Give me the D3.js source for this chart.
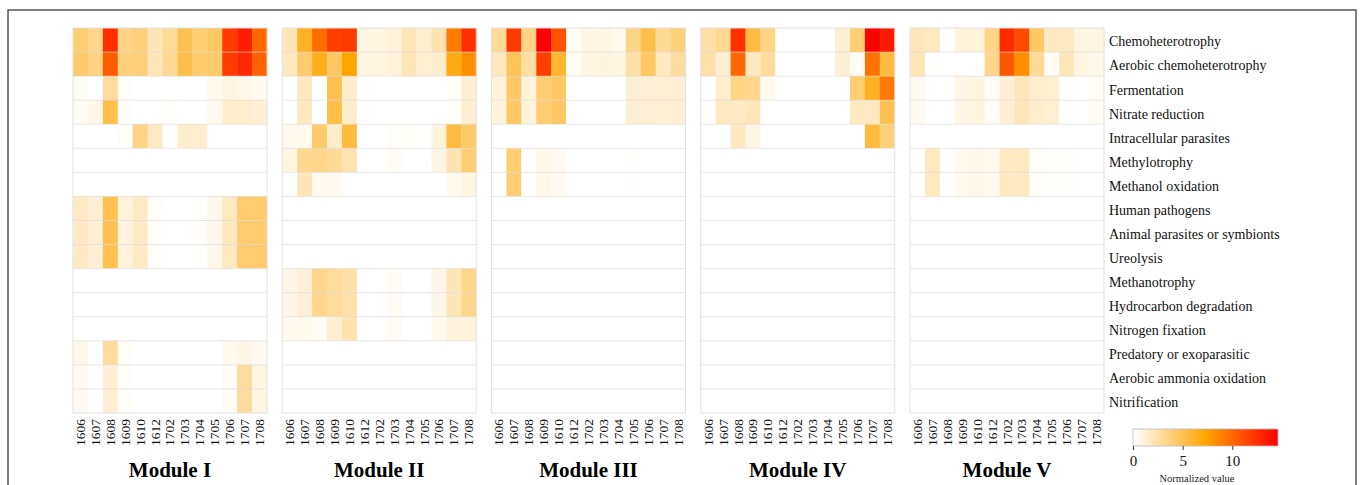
<!DOCTYPE html>
<html>
<head>
<meta charset="utf-8">
<script src="https://cdn.jsdelivr.net/npm/d3@7"></script>
<style>
  body { margin: 0; background: #fff; }
  text { font-family: "Liberation Serif", "Times New Roman", serif; }
</style>
</head>
<body>
<svg id="chart" width="1360" height="485"></svg>
<script>
// sampling months (columns)
const months = ['1606', '1607', '1608', '1609', '1610', '1612', '1702', '1703',
                '1704', '1705', '1706', '1707', '1708'];

// functional groups (rows)
const functions = [
  'Chemoheterotrophy', 'Aerobic chemoheterotrophy', 'Fermentation',
  'Nitrate reduction', 'Intracellular parasites', 'Methylotrophy',
  'Methanol oxidation', 'Human pathogens', 'Animal parasites or symbionts',
  'Ureolysis', 'Methanotrophy', 'Hydrocarbon degradation',
  'Nitrogen fixation', 'Predatory or exoparasitic',
  'Aerobic ammonia oxidation', 'Nitrification'
];

const moduleNames = ['Module I', 'Module II', 'Module III', 'Module IV', 'Module V'];

const zero = [0, 0, 0, 0, 0, 0, 0, 0, 0, 0, 0, 0, 0];

const moduleI = [
  [4, 3.3, 12.5, 3.5, 3.8, 2, 3, 5, 4, 4.5, 12, 13.3, 10],
  [4.3, 3.6, 10.5, 3.8, 3.9, 2, 3.1, 5.2, 4.2, 4.3, 12, 12.8, 10.2],
  [0.3, 0, 2.8, 0.2, 0, 0, 0, 0, 0, 0.5, 0.8, 0.6, 0.4],
  [0.3, 0.6, 5.2, 0.2, 0, 0, 0.2, 0, 0, 0.5, 1.5, 1.5, 1.2],
  [0, 0, 0, 0.2, 3.5, 1.8, 0, 1.5, 1.5, 0, 0, 0, 0],
  zero,
  zero,
  [1.7, 1.2, 5, 1, 1.7, 0.2, 0, 0, 0.1, 0.6, 1.8, 4.2, 4.2],
  [1.7, 1.2, 5, 1, 1.7, 0.2, 0, 0, 0.1, 0.6, 1.8, 4.2, 4.2],
  [1.7, 1.2, 5, 1, 1.7, 0.2, 0, 0, 0.1, 0.6, 1.8, 4.2, 4.2],
  zero,
  zero,
  zero,
  [0.6, 0, 2.8, 0.2, 0, 0, 0, 0, 0, 0, 0.5, 0.7, 0.4],
  [0.4, 0, 1.2, 0.2, 0, 0, 0, 0, 0, 0, 0.3, 2.8, 0.8],
  [0.4, 0, 1.2, 0.2, 0, 0, 0, 0, 0, 0, 0.3, 2.8, 0.8]
];

const moduleII = [
  [2, 6.3, 9.8, 11.8, 12, 0.8, 0.8, 1, 2, 1.3, 2.2, 9.2, 12.5],
  [1.8, 4.2, 6.5, 4.5, 7.3, 0.8, 0.8, 1, 2, 1.3, 1.5, 6.8, 8.3],
  [0, 1.8, 0, 5, 1.5, 0, 0, 0, 0, 0, 0, 0.2, 1.2],
  [0, 1.8, 0, 5.2, 1.5, 0, 0, 0, 0, 0, 0, 0.2, 1.3],
  [0.5, 0.5, 4.3, 1.5, 5.5, 0, 0, 0.2, 0.2, 0, 1, 5.5, 4.3],
  [0.8, 3.2, 3.3, 3, 2.3, 0, 0, 0.3, 0, 0, 0.8, 2.2, 4],
  [0, 2, 0.5, 0.4, 0, 0, 0, 0, 0, 0, 0, 0.5, 0.8],
  zero,
  zero,
  zero,
  [0.7, 1.2, 3.3, 2.8, 2.5, 0, 0, 0.3, 0, 0, 0.7, 2, 3.3],
  [0.7, 1.2, 3.3, 2.8, 2.5, 0, 0, 0.3, 0, 0, 0.7, 2, 3.3],
  [0.5, 0.5, 0.3, 1.3, 2.3, 0, 0, 0.3, 0, 0, 0.5, 1, 1],
  zero,
  zero,
  zero
];

const moduleIII = [
  [3, 12, 3.5, 14.6, 11, 0.3, 0.7, 0.8, 0.5, 3.5, 5.2, 3, 3.8],
  [1.8, 4.8, 2.7, 11.8, 6, 0.3, 0.8, 0.9, 0.8, 2.5, 4.5, 1.8, 2.8],
  [1, 4.5, 1, 4, 4.5, 0, 0, 0, 0, 1.3, 1.3, 1.2, 1.2],
  [1, 4.5, 1, 4, 4.5, 0, 0, 0, 0, 1.3, 1.3, 1.2, 1.2],
  zero,
  [0, 4, 0, 0.6, 0.4, 0, 0, 0, 0, 0.1, 0, 0, 0],
  [0, 4, 0, 0.6, 0.4, 0, 0, 0, 0, 0.1, 0, 0, 0],
  zero, zero, zero, zero, zero, zero, zero, zero, zero
];

const moduleIV = [
  [2.5, 3.2, 12.5, 5.5, 3.5, 0, 0, 0, 0, 1.3, 4, 14.6, 13.5],
  [2.5, 1.3, 10, 1.8, 2.8, 0, 0, 0, 0, 1.2, 0.3, 9.5, 5.5],
  [0, 1.5, 3.5, 3.3, 0.5, 0, 0, 0, 0, 0, 4, 6.3, 9.2],
  [0, 1.8, 1.8, 2, 0, 0, 0, 0, 0, 0, 1.8, 1.8, 5],
  [0, 0, 1.8, 0.7, 0, 0, 0, 0, 0, 0, 0, 5.5, 3.8],
  zero, zero, zero, zero, zero, zero, zero, zero, zero, zero, zero
];

const moduleV = [
  [2, 1.8, 0, 1, 1, 3.5, 12.8, 11.3, 4.5, 1.8, 1.8, 0.8, 0.8],
  [2, 0.1, 0, 0, 0, 3.3, 10.8, 8.3, 3, 0.3, 2, 0.8, 0.6],
  [0.4, 0, 0, 0.7, 0.9, 0.3, 1.2, 2, 1.5, 1.3, 0, 0, 0.3],
  [0.4, 0, 0, 0.7, 0.9, 0.3, 1.2, 2, 1.5, 1.3, 0, 0, 0.3],
  zero,
  [0, 1.8, 0, 0.5, 0.6, 0.5, 1.8, 1.8, 0.2, 0.1, 0.1, 0, 0],
  [0, 1.8, 0, 0.5, 0.6, 0.5, 1.8, 1.8, 0.2, 0.1, 0.1, 0, 0],
  zero, zero, zero, zero, zero, zero, zero, zero, zero
];

const moduleData = [moduleI, moduleII, moduleIII, moduleIV, moduleV];
const legendTicks = [0, 5, 10];
const valueMax = 14.6;

const svg = d3.select('#chart');

// outer frame
svg.append('rect')
   .attr('x', 8).attr('y', 10)
   .attr('width', 1348).attr('height', 490)
   .attr('fill', 'none')
   .attr('stroke', '#555')
   .attr('stroke-width', 1.5);

const panelX = d3.scaleBand()
                 .domain(moduleNames)
                 .range([73, 1104])
                 .paddingInner(0.073);
const yScale = d3.scaleBand().domain(functions).range([28, 413]);
const colorScale = d3.scaleLinear()
                     .domain([0, valueMax / 2, valueMax])
                     .range(['#ffffff', '#ffa500', '#ff0000'])
                     .clamp(true);

moduleNames.forEach((name, m) => {
  const x0 = panelX(name);
  const xScale = d3.scaleBand().domain(months).range([x0, x0 + panelX.bandwidth()]);
  const g = svg.append('g').attr('class', 'panel');

  const cells = [];
  moduleData[m].forEach((row, r) => {
    row.forEach((v, c) => cells.push({fn: functions[r], month: months[c], v: v}));
  });

  g.selectAll('rect.cell')
   .data(cells)
   .enter()
   .append('rect')
   .attr('class', 'cell')
   .attr('x', (d) => xScale(d.month))
   .attr('y', (d) => yScale(d.fn))
   .attr('width', xScale.bandwidth() + 0.3)
   .attr('height', yScale.bandwidth())
   .attr('fill', (d) => colorScale(d.v));

  // row separators
  g.selectAll('line.sep')
   .data(functions.slice(1))
   .enter()
   .append('line')
   .attr('x1', x0).attr('x2', x0 + panelX.bandwidth())
   .attr('y1', (d) => yScale(d)).attr('y2', (d) => yScale(d))
   .attr('stroke', '#d8d8d8')
   .attr('stroke-opacity', 0.6)
   .attr('stroke-width', 1);

  g.append('rect')
   .attr('x', x0).attr('y', yScale.range()[0])
   .attr('width', panelX.bandwidth())
   .attr('height', yScale.range()[1] - yScale.range()[0])
   .attr('fill', 'none')
   .attr('stroke', '#e2e2e2')
   .attr('stroke-width', 1);

  // month labels, rotated
  g.selectAll('text.month')
   .data(months)
   .enter()
   .append('text')
   .attr('class', 'month')
   .attr('transform', (d) => 'translate(' + (xScale(d) + xScale.bandwidth() / 2 + 4.5) +
                             ',419) rotate(-90)')
   .attr('text-anchor', 'end')
   .attr('font-size', 13.5)
   .attr('fill', '#111')
   .text((d) => d);

  g.append('text')
   .attr('x', x0 + panelX.bandwidth() / 2)
   .attr('y', 477)
   .attr('text-anchor', 'middle')
   .attr('font-size', 21)
   .attr('font-weight', 'bold')
   .text(name);
});

// row labels
svg.selectAll('text.fn')
   .data(functions)
   .enter()
   .append('text')
   .attr('class', 'fn')
   .attr('x', 1109)
   .attr('y', (d) => yScale(d) + yScale.bandwidth() / 2 + 1.5)
   .attr('dy', '0.35em')
   .attr('font-size', 14)
   .attr('fill', '#111')
   .text((d) => d);

// colour legend
const legendX = d3.scaleLinear().domain([0, valueMax]).range([1133, 1278]);
const grad = svg.append('defs')
                .append('linearGradient')
                .attr('id', 'legend-grad');
colorScale.domain().forEach((v) => {
  grad.append('stop')
      .attr('offset', (v / valueMax * 100) + '%')
      .attr('stop-color', colorScale(v));
});
svg.append('rect')
   .attr('x', 1133).attr('y', 429)
   .attr('width', 145).attr('height', 17)
   .attr('fill', 'url(#legend-grad)')
   .attr('stroke', '#bbb')
   .attr('stroke-width', 0.8);
const legendAxis = svg.append('g')
   .attr('transform', 'translate(0,446)')
   .call(d3.axisBottom(legendX).tickValues(legendTicks)
           .tickSize(4).tickSizeOuter(0).tickPadding(5));
legendAxis.select('.domain').remove();
legendAxis.selectAll('line').attr('stroke', '#333');
legendAxis.selectAll('text')
   .attr('font-family', '"Liberation Serif", serif')
   .attr('font-size', 15)
   .attr('fill', '#111');
svg.append('text')
   .attr('x', 1197)
   .attr('y', 482)
   .attr('text-anchor', 'middle')
   .attr('font-size', 10.5)
   .attr('fill', '#222')
   .text('Normalized value');
</script>
</body>
</html>
